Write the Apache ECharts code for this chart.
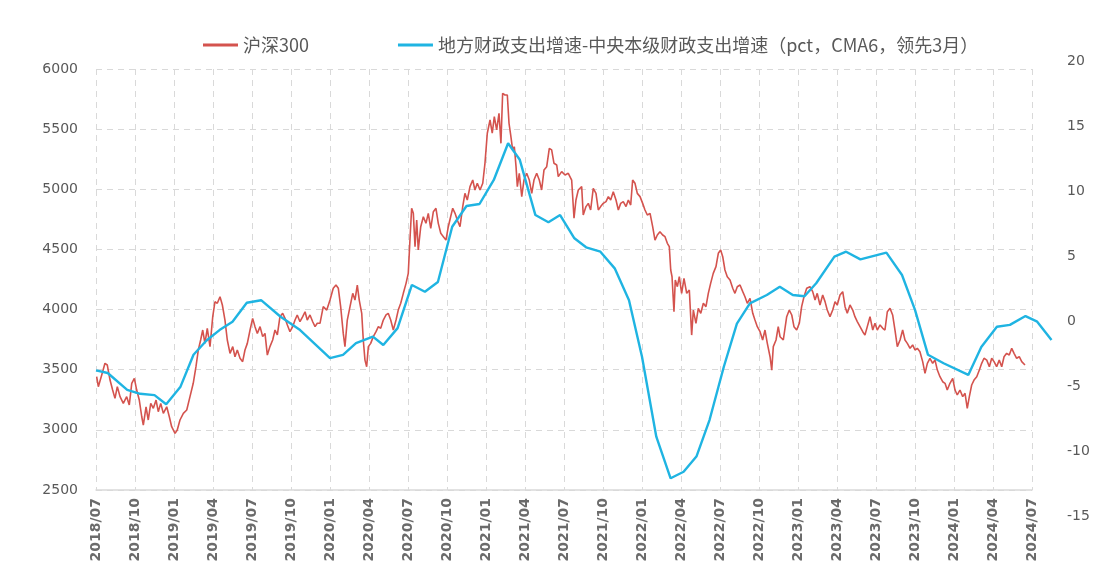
<!DOCTYPE html>
<html>
<head>
<meta charset="utf-8">
<script src="https://cdn.jsdelivr.net/npm/echarts@6/dist/echarts.min.js"></script>
<style>html,body{margin:0;padding:0;background:#fff;}#c{width:1105px;height:577px;}</style>
</head>
<body>
<div id="c"></div>
<script>
// x values are months since 2018/07
const quarterLabels = ['2018/07','2018/10','2019/01','2019/04','2019/07','2019/10','2020/01','2020/04','2020/07','2020/10','2021/01','2021/04','2021/07','2021/10','2022/01','2022/04','2022/07','2022/10','2023/01','2023/04','2023/07','2023/10','2024/01','2024/04','2024/07'];
const seriesNames = ['沪深300','地方财政支出增速-中央本级财政支出增速（pct，CMA6，领先3月）'];

// 沪深300 (left axis)
const csi300 = [
[0.05,3442],[0.18,3359],[0.44,3456],[0.69,3553],[0.87,3539],[1.08,3414],[1.28,3331],[1.46,3262],[1.64,3359],[1.85,3276],
[2.10,3220],[2.36,3276],[2.56,3207],[2.75,3387],[2.95,3428],[3.13,3331],[3.33,3248],[3.52,3109],[3.64,3040],[3.85,3192],
[4.02,3082],[4.21,3220],[4.41,3179],[4.62,3248],[4.79,3151],[4.98,3220],[5.18,3137],[5.44,3192],[5.64,3109],[5.82,3026],
[6.08,2971],[6.25,2999],[6.46,3082],[6.72,3137],[6.98,3165],[7.23,3276],[7.48,3387],[7.69,3525],[7.87,3664],[8.05,3747],
[8.21,3830],[8.38,3719],[8.56,3844],[8.77,3692],[8.98,3941],[9.15,4065],[9.33,4052],[9.54,4107],[9.72,4038],[9.92,3913],
[10.10,3747],[10.31,3636],[10.52,3692],[10.69,3608],[10.87,3664],[11.08,3595],[11.28,3567],[11.46,3664],[11.64,3719],[11.85,3830],
[12.05,3927],[12.23,3858],[12.41,3802],[12.62,3858],[12.82,3775],[13.00,3802],[13.18,3622],[13.38,3692],[13.59,3747],[13.77,3830],
[13.95,3789],[14.15,3941],[14.36,3969],[14.54,3927],[14.72,3872],[14.92,3816],[15.13,3858],[15.31,3913],[15.48,3955],[15.69,3899],
[15.90,3941],[16.08,3982],[16.25,3913],[16.46,3955],[16.67,3899],[16.85,3858],[17.02,3886],
[17.23,3886],[17.48,4024],[17.75,3996],[18.00,4079],[18.25,4177],[18.46,4204],[18.64,4177],[18.82,4024],[19.02,3802],[19.15,3692],
[19.33,3913],[19.54,4024],[19.75,4135],[19.92,4079],[20.10,4204],[20.25,4079],[20.44,3969],[20.56,3747],[20.69,3580],[20.82,3525],
[20.95,3692],[21.13,3719],[21.33,3775],[21.54,3816],[21.72,3858],[21.90,3844],[22.10,3913],[22.31,3955],[22.48,3969],[22.67,3913],
[22.87,3830],[23.08,3913],[23.25,3996],[23.44,4052],[23.64,4135],[23.85,4218],[24.02,4301],[24.15,4578],[24.28,4842],[24.41,4800],
[24.54,4523],[24.67,4745],[24.79,4495],[24.98,4689],[25.18,4772],[25.38,4717],[25.56,4800],[25.75,4675],[25.95,4814],[26.15,4842],
[26.33,4717],[26.52,4634],[26.72,4606],[26.92,4578],[27.10,4689],[27.28,4772],[27.44,4842],[27.62,4800],[27.79,4745],[28.00,4689],
[28.21,4856],[28.38,4966],[28.56,4911],[28.77,5022],[28.98,5077],[29.15,4994],[29.33,5050],[29.54,4994],[29.75,5050],[29.92,5216],
[30.10,5466],[30.31,5576],[30.48,5466],[30.64,5604],[30.82,5493],[31.00,5632],[31.15,5382],[31.28,5798],[31.46,5784],[31.64,5784],
[31.77,5549],[31.90,5451],[32.05,5327],[32.18,5354],[32.31,5188],[32.41,5022],[32.56,5133],[32.75,4939],[32.92,5077],[33.13,5133],
[33.33,5077],[33.52,4966],[33.69,5077],[33.90,5133],[34.10,5077],[34.28,4994],[34.46,5160],[34.67,5188],[34.87,5340],[35.05,5327],
[35.23,5216],[35.44,5202],
[35.56,5105],[35.82,5147],[36.08,5119],[36.33,5133],[36.59,5077],[36.77,4759],[36.92,4911],[37.10,4994],[37.36,5022],[37.48,4786],
[37.69,4856],[37.87,4883],[38.05,4828],[38.25,5008],[38.46,4966],[38.64,4828],[38.82,4856],[39.02,4883],[39.23,4897],[39.41,4939],
[39.59,4911],[39.79,4980],[40.00,4911],[40.18,4828],[40.36,4883],[40.56,4897],[40.77,4856],[40.95,4911],[41.13,4869],[41.28,5077],
[41.46,5050],[41.64,4966],[41.85,4939],[42.05,4883],[42.23,4828],[42.41,4786],[42.62,4800],[42.82,4689],[43.00,4578],[43.18,4620],
[43.38,4647],[43.59,4620],[43.77,4606],[43.95,4551],[44.10,4523],[44.21,4329],[44.31,4273],[44.46,3982],[44.56,4246],[44.72,4190],
[44.87,4273],[45.05,4135],[45.23,4260],[45.44,4135],[45.64,4163],[45.82,3788],[45.95,3996],[46.15,3886],[46.33,4010],[46.52,3969],
[46.72,4052],[46.92,4024],[47.10,4135],[47.28,4218],[47.48,4301],[47.69,4357],[47.87,4468],[48.05,4495],[48.21,4440],[48.38,4329],
[48.56,4273],[48.77,4246],[48.98,4177],[49.15,4135],[49.33,4190],[49.54,4204],[49.75,4149],[49.92,4107],[50.10,4052],[50.31,4093],
[50.52,3969],[50.69,3913],[50.87,3858],[51.08,3816],[51.28,3747],[51.46,3830],[51.64,3719],[51.85,3608],[51.98,3497],[52.10,3692],
[52.31,3747],[52.48,3858],
[52.62,3774],[52.87,3747],[53.13,3941],[53.33,3996],[53.52,3955],[53.69,3858],[53.90,3830],[54.10,3886],[54.28,4024],[54.46,4107],
[54.67,4177],[54.92,4190],[55.13,4149],[55.31,4079],[55.48,4135],[55.69,4038],[55.90,4121],[56.08,4066],[56.25,3996],[56.46,3941],
[56.67,3996],[56.85,4066],[57.02,4038],[57.23,4121],[57.44,4149],[57.62,4024],[57.79,3969],[58.00,4038],[58.21,3996],[58.38,3941],
[58.56,3900],[58.77,3858],[58.98,3816],[59.15,3788],[59.33,3858],[59.54,3941],[59.75,3830],[59.92,3886],[60.10,3830],[60.31,3872],
[60.52,3844],[60.69,3830],[60.87,3982],[61.08,4010],[61.28,3955],[61.46,3830],[61.64,3692],[61.85,3747],[62.05,3830],[62.23,3747],
[62.41,3719],[62.62,3678],[62.82,3706],[63.00,3664],[63.18,3678],[63.38,3650],[63.59,3567],[63.77,3470],[63.95,3553],[64.15,3595],
[64.36,3553],[64.54,3580],[64.72,3497],[64.92,3442],[65.13,3400],[65.31,3387],[65.48,3331],[65.69,3387],[65.90,3428],[66.08,3331],
[66.25,3290],[66.46,3331],[66.67,3276],[66.85,3304],[67.02,3179],[67.18,3276],[67.36,3373],[67.54,3414],[67.75,3442],[67.95,3497],
[68.13,3553],[68.31,3595],[68.52,3580],[68.72,3525],[68.90,3595],[69.08,3567],[69.28,3525],[69.48,3580],[69.67,3525],[69.85,3608],
[70.05,3636],[70.25,3622],[70.44,3678],[70.62,3636],[70.82,3595],[71.02,3608],[71.21,3567],[71.46,3539]
];

// 地方财政支出增速-中央本级财政支出增速 (right axis, pct)
const fiscalGap = [
[0,-3.8],[0.9,-4.0],[2.4,-5.3],[3.4,-5.6],[4.5,-5.7],[5.4,-6.4],[6.5,-5.05],[7.5,-2.6],[8.5,-1.5],[9.5,-0.7],
[10.5,-0.05],[11.6,1.4],[12.7,1.6],[14.2,0.33],[15.7,-0.7],[18,-2.85],[19,-2.6],[20,-1.7],[21.3,-1.2],[22.1,-1.85],
[23.2,-0.55],[24.3,2.77],[25.3,2.25],[26.3,3.0],[27.4,7.25],[28.5,8.85],[29.5,9.0],[30.6,10.85],[31.7,13.67],[32.6,12.4],
[33.8,8.15],[34.8,7.6],[35.7,8.15],[36.8,6.36],[37.7,5.67],[38.8,5.33],[39.9,4.05],[41,1.6],[42,-2.75],[43.1,-8.9],
[44.2,-12.1],[45.2,-11.6],[46.2,-10.4],[47.2,-7.6],[48.3,-3.5],[49.3,-0.2],[50.3,1.36],[51.6,2.0],[52.6,2.64],[53.6,2.0],
[54.5,1.9],[55.4,2.9],[56.8,4.95],[57.7,5.33],[58.8,4.74],[60.8,5.26],[62,3.54],[63,0.85],[64,-2.6],[65.2,-3.25],
[67.1,-4.15],[68.1,-2.0],[69.3,-0.44],[70.3,-0.3],[71.5,0.38],[72.4,-0.05],[73.5,-1.46]
];

const chart = echarts.init(document.getElementById('c'));
const labelFont = 'DejaVu Sans';
const gridColor = '#d9d9d9';
chart.setOption({
  animation: false,
  backgroundColor: '#fff',
  legend: {
    left: 198, top: 31,
    itemWidth: 35, itemHeight: 3, itemGap: 89,
    icon: 'rect',
    textStyle: { fontFamily: 'Noto Sans CJK SC', fontSize: 18, color: '#595959' },
    data: seriesNames
  },
  grid: [
    { left: 96, right: 73, top: 69, bottom: 87 },
    // same month scale as grid 0, extended to 74 months so the last points are not clipped
    { left: 96, right: 47, top: 61, bottom: 61 }
  ],
  xAxis: [
    {
      type: 'value', gridIndex: 0, min: 0, max: 72, interval: 3,
      axisLine: { lineStyle: { color: gridColor, width: 1.5 } },
      axisTick: { show: false },
      splitLine: { show: true, lineStyle: { color: gridColor, type: [6, 5], width: 1 } },
      axisLabel: {
        rotate: 90, margin: 8, showMinLabel: true, showMaxLabel: true,
        formatter: v => quarterLabels[Math.round(v / 3)],
        fontFamily: labelFont, fontSize: 14, fontWeight: 'bold', color: '#6b6b6b'
      }
    },
    { type: 'value', gridIndex: 1, min: 0, max: 74, show: false }
  ],
  yAxis: [
    {
      type: 'value', gridIndex: 0, min: 2500, max: 6000, interval: 500,
      axisLine: { show: false }, axisTick: { show: false },
      splitLine: { lineStyle: { color: gridColor, type: [6, 5], width: 1 } },
      axisLabel: { margin: 18, fontFamily: labelFont, fontSize: 14, color: '#595959', formatter: v => String(v) }
    },
    {
      type: 'value', gridIndex: 1, position: 'right', offset: -26, min: -15, max: 20, interval: 5,
      axisLine: { show: false }, axisTick: { show: false }, splitLine: { show: false },
      axisLabel: { margin: 35, fontFamily: labelFont, fontSize: 14, color: '#595959', formatter: v => String(v) }
    }
  ],
  series: [
    {
      name: seriesNames[0], type: 'line', xAxisIndex: 0, yAxisIndex: 0,
      data: csi300, symbol: 'none', smooth: false,
      lineStyle: { color: '#d4534e', width: 1.6 }, itemStyle: { color: '#d4534e' }
    },
    {
      name: seriesNames[1], type: 'line', xAxisIndex: 1, yAxisIndex: 1,
      data: fiscalGap, symbol: 'none', smooth: false, clip: false,
      lineStyle: { color: '#1fb4e2', width: 2.4 }, itemStyle: { color: '#1fb4e2' }
    }
  ]
});
</script>
</body>
</html>
